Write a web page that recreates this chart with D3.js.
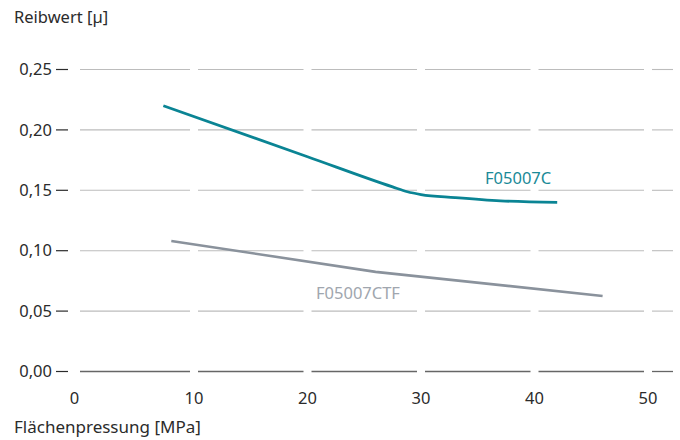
<!DOCTYPE html>
<html>
<head>
<meta charset="utf-8">
<script src="https://cdn.jsdelivr.net/npm/d3@7"></script>
<style>
  body { margin: 0; background: #fff; }
  svg text { font-family: "Noto Sans", Inter, sans-serif; }
</style>
</head>
<body>
<svg id="chart" width="680" height="440"></svg>
<script>
'use strict';

// data
const xTicks = [0, 10, 20, 30, 40, 50];
const yTicks = [0, 0.05, 0.10, 0.15, 0.20, 0.25];

const pressureC = [7.3, 20, 27.5, 28.8, 30, 33, 37, 42];
const frictionC = [0.220, 0.1778, 0.1528, 0.1488, 0.1465, 0.1440, 0.1413, 0.140];

const pressureCTF = [8, 26, 46];
const frictionCTF = [0.108, 0.0825, 0.0625];

const seriesNames = ['F05007C', 'F05007CTF'];

function drawChart() {
    const svg = d3.select('#chart');

    const x = d3.scaleLinear().domain([0, 50]).range([80.5, 648]);
    const y = d3.scaleLinear().domain([0, 0.25]).range([371.5, 69.5]);

    const fmt = d => d3.format('.2f')(d).replace('.', ',');

    // horizontal grid, broken at every x tick
    const gridStart = 80, gridEnd = 673, gap = 4;
    const breaks = xTicks.slice(1).map(x);
    const pieces = [];
    let from = gridStart;
    breaks.forEach(b => { pieces.push([from, b - gap]); from = b + gap; });
    pieces.push([from, gridEnd]);

    yTicks.forEach(t => {
        const g = svg.append('g');
        g.selectAll('line')
            .data(pieces)
            .enter()
            .append('line')
            .attr('x1', d => d[0])
            .attr('x2', d => d[1])
            .attr('y1', y(t))
            .attr('y2', y(t))
            .attr('stroke', t === 0 ? '#666' : '#bcbcbc')
            .attr('stroke-width', t === 0 ? 1.3 : 1.1);
    });

    // y tick labels with a small dash
    svg.selectAll('.ylab')
        .data(yTicks)
        .enter()
        .append('text')
        .attr('class', 'ylab')
        .attr('x', 52)
        .attr('y', d => y(d))
        .attr('dy', '0.35em')
        .attr('text-anchor', 'end')
        .attr('font-size', 16.5)
        .attr('fill', '#2b2b2b')
        .text(fmt);

    svg.selectAll('.ydash')
        .data(yTicks)
        .enter()
        .append('line')
        .attr('x1', 56)
        .attr('x2', 68)
        .attr('y1', d => y(d))
        .attr('y2', d => y(d))
        .attr('stroke', '#2b2b2b')
        .attr('stroke-width', 1.2);

    // x tick labels
    svg.selectAll('.xlab')
        .data(xTicks)
        .enter()
        .append('text')
        .attr('class', 'xlab')
        .attr('x', d => d === 0 ? x(d) - 6 : x(d))
        .attr('y', 398)
        .attr('dy', '0.35em')
        .attr('text-anchor', 'middle')
        .attr('font-size', 16.5)
        .attr('fill', '#2b2b2b')
        .text(d => d);

    // axis titles
    svg.append('text')
        .attr('x', 14).attr('y', 23)
        .attr('font-size', 16.5).attr('fill', '#2b2b2b')
        .text('Reibwert [µ]');

    svg.append('text')
        .attr('x', 14).attr('y', 433)
        .attr('font-size', 17).attr('fill', '#2b2b2b')
        .text('Flächenpressung [MPa]');

    // lines
    const line = d3.line()
        .x(d => x(d[0]))
        .y(d => y(d[1]));

    svg.append('path')
        .datum(d3.zip(pressureCTF, frictionCTF))
        .attr('d', line)
        .attr('fill', 'none')
        .attr('stroke', '#8a929c')
        .attr('stroke-width', 2.6);

    svg.append('path')
        .datum(d3.zip(pressureC, frictionC))
        .attr('d', line.curve(d3.curveMonotoneX))
        .attr('fill', 'none')
        .attr('stroke', '#0a8494')
        .attr('stroke-width', 2.8);

    // series labels
    svg.append('text')
        .attr('x', 485).attr('y', 184)
        .attr('font-family', 'Roboto')
        .attr('font-size', 16.5).attr('fill', '#1a8a98')
        .text(seriesNames[0]);

    svg.append('text')
        .attr('x', 316).attr('y', 299)
        .attr('font-family', 'Roboto')
        .attr('font-size', 16.5).attr('fill', '#a0a6ae')
        .text(seriesNames[1]);
}

drawChart();
</script>
</body>
</html>
